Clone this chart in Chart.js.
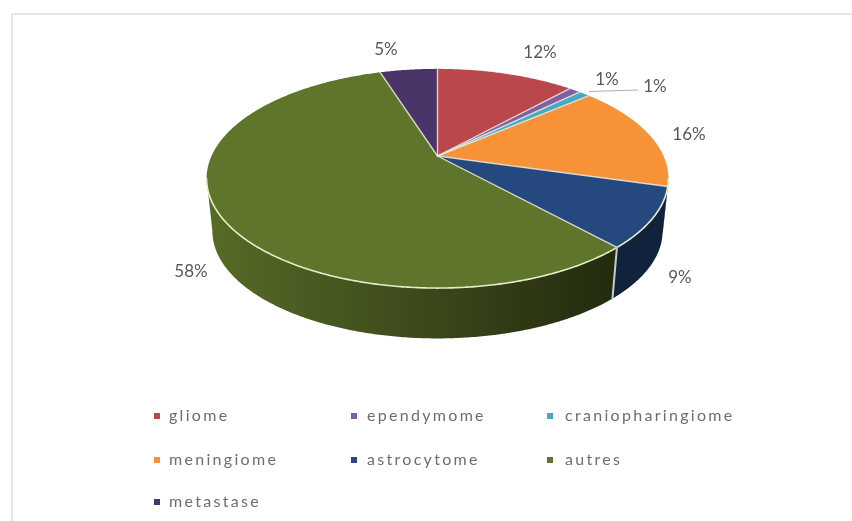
<!DOCTYPE html>
<html><head><meta charset="utf-8">
<style>
html,body{margin:0;padding:0;background:#fff;width:852px;height:521px;overflow:hidden}
#frame{position:absolute;left:11px;top:13px;width:841px;height:508px;border-left:2px solid #e6e6e6;border-top:2px solid #e6e6e6;box-sizing:border-box}
canvas{position:absolute;left:0;top:0}
</style>
<script src="https://cdn.jsdelivr.net/npm/chart.js@4"></script>
</head><body>
<div id="frame"></div>
<canvas id="c" width="852" height="521"></canvas>
<script>
const categories = ['gliome','ependymome','craniopharingiome','meningiome','astrocytome','autres','metastase'];
const percentValues = [12,1,1,16,9,58,5];
const sliceColors = ['#BA474A','#7F5FA0','#48A9C2','#F79239','#25497F','#5F752B','#4A3468'];

const labelSpots = [[540,53],[607,80],[655,87],[689,135],[680,278],[191,272],[386,50]];
const legendColumns = [[157,169],[354,367],[550,565]];
const legendRows = [416,460,502];

// Perspective of the tilted disc
const APEX_X=437.5, APEX_Y=156, A=226, B=105, K=-0.205;
function top3d(a){const u=Math.cos(a),v=Math.sin(a),w=1+K*v;return [APEX_X+A*u/w,APEX_Y+B*v/w];}
function bot3d(a){const u=Math.cos(a),v=Math.sin(a),w=1+K*v;return [APEX_X+0.975*A*u/w,APEX_Y+0.98*B*v/w+53];}
function shade(hex,f){const n=parseInt(hex.slice(1),16);return `rgb(${(n>>16&255)*f|0},${(n>>8&255)*f|0},${(n&255)*f|0})`;}
const STEP=Math.PI/180;
const SILHOUETTE=0.206; // angle at which the disc edge is widest

const pie3d={
  id:'pie3d',
  beforeDatasetsDraw(chart){
    const ctx=chart.ctx, arcs=chart.getDatasetMeta(0).data;
    const colors=chart.data.datasets[0].backgroundColor;
    ctx.save();
    // side wall: one outline per slice, limited to the part facing the viewer
    arcs.forEach((arc,i)=>{
      const start=Math.max(arc.startAngle,SILHOUETTE);
      const to=Math.min(arc.endAngle,Math.PI-SILHOUETTE);
      if(to<=start) return;
      ctx.beginPath();
      for(let a=start;a<to;a+=STEP/2) ctx.lineTo(...top3d(a));
      ctx.lineTo(...top3d(to));
      ctx.lineTo(...bot3d(to));
      for(let a=to;a>start;a-=STEP/2) ctx.lineTo(...bot3d(a));
      ctx.lineTo(...bot3d(start));
      ctx.closePath();
      const g=ctx.createLinearGradient(207,0,667,0);
      if(i===4){g.addColorStop(0,shade(colors[i],0.48));g.addColorStop(1,shade(colors[i],0.48));}
      else{g.addColorStop(0,shade(colors[i],0.92));g.addColorStop(1,shade(colors[i],0.30));}
      ctx.fillStyle=g;ctx.fill();
    });
    // top surface
    arcs.forEach((arc,i)=>{
      ctx.beginPath();ctx.moveTo(APEX_X,APEX_Y);
      for(let a=arc.startAngle;a<arc.endAngle;a+=STEP/2) ctx.lineTo(...top3d(a));
      ctx.lineTo(...top3d(arc.endAngle));ctx.closePath();
      ctx.fillStyle=colors[i];ctx.fill();
    });
    // slice separators
    ctx.lineWidth=1.4;ctx.lineCap='round';
    arcs.forEach((arc)=>{
      ctx.strokeStyle='rgba(232,232,218,0.85)';
      ctx.beginPath();ctx.moveTo(APEX_X,APEX_Y);ctx.lineTo(...top3d(arc.startAngle));ctx.stroke();
    });
    // bright front rim
    ctx.lineWidth=1.6;ctx.strokeStyle='#E6EDCB';
    ctx.beginPath();
    let started=false;
    for(let d=12;d<=168;d+=0.5){const p=top3d(d*STEP);started?ctx.lineTo(...p):ctx.moveTo(...p);started=true;}
    ctx.stroke();
    // wall seam between astrocytome and autres
    const seam=arcs[4].endAngle;
    ctx.strokeStyle='#C9CCC8';ctx.lineWidth=2;
    ctx.beginPath();ctx.moveTo(...top3d(seam));ctx.lineTo(...bot3d(seam));ctx.stroke();
    ctx.restore();
    return false;
  },
  afterDraw(chart){
    const ctx=chart.ctx;
    const colors=chart.data.datasets[0].backgroundColor;
    ctx.save();
    // leader line
    ctx.strokeStyle='#A3B3BF';ctx.lineWidth=1;
    ctx.beginPath();ctx.moveTo(589,91.5);ctx.lineTo(638,90);ctx.stroke();
    // percent labels
    ctx.font='17px Lato';ctx.fillStyle='#595959';ctx.textAlign='center';ctx.textBaseline='middle';
    percentValues.forEach((v,i)=>{
      const pos=labelSpots[i];
      ctx.fillText(v+'%',pos[0],pos[1]);
    });
    // legend grid
    ctx.font='16px Lato';ctx.letterSpacing='2.3px';ctx.textAlign='left';
    categories.forEach((name,i)=>{
      const col=legendColumns[i%3], y=legendRows[Math.floor(i/3)];
      ctx.fillStyle=colors[i];ctx.fillRect(col[0]-3,y-3,6,6);
      ctx.fillStyle='#6e6e6e';ctx.fillText(name,col[1],y);
    });
    ctx.restore();
  }
};

new Chart(document.getElementById('c'),{
  type:'pie',
  data:{labels:categories,datasets:[{data:percentValues,backgroundColor:sliceColors,borderWidth:0}]},
  options:{responsive:false,animation:false,
    plugins:{legend:{display:false},tooltip:{enabled:false}}},
  plugins:[pie3d]
});
</script>
</body></html>
